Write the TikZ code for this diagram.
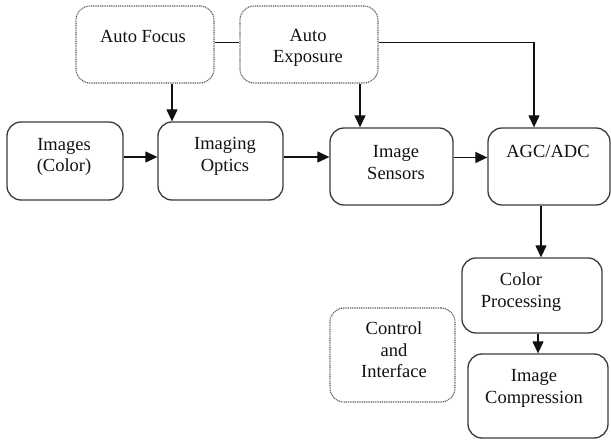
\documentclass[tikz,border=0pt]{standalone}
\usepackage{fontspec}
\setmainfont{Liberation Serif}
\newfontfamily\boxfont{Liberation Serif}
\usetikzlibrary{arrows.meta}
\definecolor{edge}{HTML}{3A3A3A}
\definecolor{dots}{HTML}{5A5A5A}
\definecolor{ink}{HTML}{111111}

\tikzset{
  blk/.style={draw=edge, line width=1.3pt, rounded corners=14pt, inner sep=0pt},
  ctlblk/.style={draw=dots, line width=1.1pt, dash pattern=on 1pt off 0.8pt,
    rounded corners=14pt, inner sep=0pt},
  txt/.style={align=center, inner sep=0pt, text=ink,
    font=\boxfont\fontsize{18.5}{21.5}\selectfont},
  flow/.style={draw=ink, line width=1.2pt, -{Triangle[length=12pt, width=11pt]}}
}

\begin{document}
\begin{tikzpicture}[x=1pt, y=-1pt]
  \useasboundingbox (0,0) rectangle (611,441);

  % Solid blocks (name/center x/center y/width/height)
  \foreach \n/\x/\y/\w/\h in {
    img/65/161/116/78, opt/220.5/161/125/78, sen/391.5/166.5/123/77,
    agc/549/166.5/122/77, cp/532/295.5/140/75, ic/538/396/140/84
  } {
    \node[blk, minimum width=\w pt, minimum height=\h pt] (\n) at (\x,\y) {};
  }

  % Dotted blocks
  \foreach \n/\x/\y/\w/\h in {
    af/145/44.5/138/77, ae/309/44.5/138/77, ctl/392.5/355/125/94
  } {
    \node[ctlblk, minimum width=\w pt, minimum height=\h pt] (\n) at (\x,\y) {};
  }

  % Labels
  \node[txt] (afT) at (143,36) {Auto Focus};
  \node[txt] (aeT) at (308,48) {Auto\\Exposure};
  \node[txt] (imgT) at (64,157) {Images\\(Color)};
  \node[txt] (optT) at (225,156.5) {Imaging\\Optics};
  \node[txt] (senT) at (396,162.5) {Image\\Sensors};
  \node[txt] (agcT) at (548,151) {AGC/ADC};
  \node[txt] (cpT) at (521,292) {Color\\Processing};
  \node[txt] (ctlT) at (394,350) {Control\\and\\Interface};
  \node[txt] (icT) at (534,388.5) {Image\\Compression};

  % Control lines from the top blocks
  \draw[draw=ink, line width=1.2pt] ([yshift=2pt]af.east) -- ([yshift=2pt]ae.west);
  \draw[flow] ([yshift=2pt]ae.east) -| ([xshift=-15pt]agc.north);
  \draw[flow] ([xshift=27pt]af.south) -- ([xshift=27pt]af.south |- opt.north);
  \draw[flow] ([xshift=51pt]ae.south) -- ([xshift=51pt]ae.south |- sen.north);

  % Main signal path
  \draw[flow] ([yshift=4pt]img.east) -- ([yshift=4pt]img.east -| opt.west);
  \draw[flow] ([yshift=4pt]opt.east) -- ([yshift=4pt]opt.east -| sen.west);
  \draw[flow] ([yshift=9pt]sen.east) -- ([yshift=9pt]sen.east -| agc.west);
  \draw[flow] ([xshift=-8pt]agc.south) -- ([xshift=-8pt]agc.south |- cp.north);
  \draw[flow] (ic.north |- cp.south) -- (ic.north);
\end{tikzpicture}
\end{document}
